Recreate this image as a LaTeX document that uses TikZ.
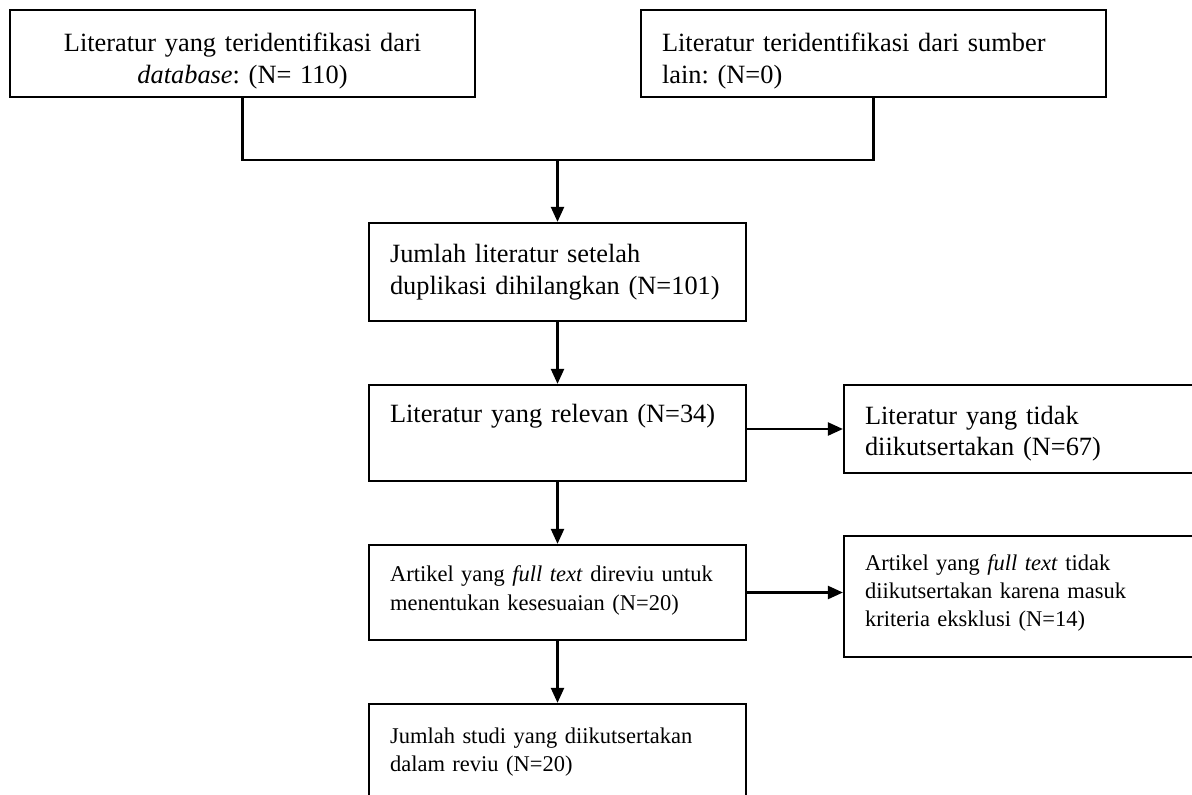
\documentclass[tikz,border=0pt]{standalone}
\usepackage{fontspec}
\setmainfont{Liberation Serif}
\frenchspacing
\usetikzlibrary{arrows.meta}

\tikzset{
  box/.style={draw, line width=1.3pt, inner xsep=0.42cm, inner ysep=0pt,
    minimum height=#1, font=\fontsize{15}{18}\selectfont},
  smallbox/.style={box=#1, font=\fontsize{12.8}{16}\selectfont},
  link/.style={line width=1.3pt},
  arr/.style={line width=1.3pt, -{Triangle[length=0.3cm,width=0.26cm]}}
}

\begin{document}
\begin{tikzpicture}[x=0.02cm, y=-0.02cm]

  % --- Frame ---
  \useasboundingbox (0,0) rectangle (1192,794);
  \clip (0,0) rectangle (1192,794);

  % --- Sources ---
  \node[box=1.74cm, text width=8.46cm, align=center, text depth=0.44cm] (db) at (242.5,53.5)
    {Literatur yang teridentifikasi dari\\\textit{database}: (N= 110)};
  \node[box=1.74cm, text width=8.46cm, align=left, text depth=0.44cm] (other) at (873.5,53.5)
    {Literatur teridentifikasi dari sumber\\lain: (N=0)};

  % --- Main column ---
  \node[box=1.96cm, text width=6.7cm, align=left] (dup) at (557.5,272)
    {Jumlah literatur setelah\\duplikasi dihilangkan (N=101)};
  \node[box=1.92cm, text width=6.7cm, align=left, text depth=0.8cm] (rel) at (557.5,433)
    {Literatur yang relevan (N=34)};
  \node[smallbox=1.9cm, text width=6.7cm, align=left, text depth=0.74cm] (full) at (557.5,592.5)
    {Artikel yang \textit{full text} direviu untuk\\menentukan kesesuaian (N=20)};
  \node[smallbox=2cm, text width=6.7cm, align=left, text depth=0.73cm] (incl) at (557.5,754)
    {Jumlah studi yang diikutsertakan\\dalam reviu (N=20)};

  % --- Exclusions ---
  \node[box=1.76cm, text width=6.56cm, align=left, text height=0.55cm] (excl) at (1029,429)
    {Literatur yang tidak\\diikutsertakan (N=67)};
  \node[smallbox=2.42cm, text width=6.56cm, align=left, text depth=1.35cm] (crit) at (1029,596.5)
    {Artikel yang \textit{full text} tidak\\diikutsertakan karena masuk\\kriteria eksklusi (N=14)};

  % --- Merge line ---
  \coordinate (join) at (557.5,160);
  \draw[link] (db.south) |- (join) -| (other.south);

  % --- Arrows ---
  \draw[arr] (join) -- (dup.north);
  \draw[arr] (dup) -- (rel);
  \draw[arr] (rel) -- (full);
  \draw[arr] (full) -- (incl);
  \draw[arr] (rel.east |- excl.west) -- (excl.west);
  \draw[arr] (full.east) -- (full.east -| crit.west);

\end{tikzpicture}
\end{document}
